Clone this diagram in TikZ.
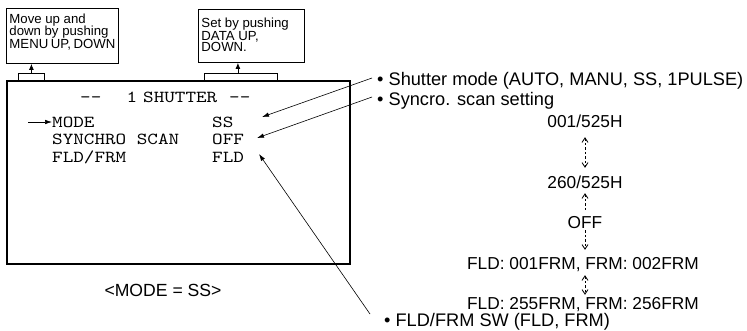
\documentclass[tikz,border=0pt]{standalone}
\usepackage{fontspec}
\setmainfont{Liberation Sans}
\newfontfamily\scrmono[FakeStretch=1.2]{lmmono10-regular.otf}
\usetikzlibrary{arrows.meta}
\begin{document}
\begin{tikzpicture}[x=1pt,y=-1pt,
  sans/.style={font=\fontsize{17.3}{20}\selectfont, inner sep=0pt, text height=12.4pt, text depth=0pt},
  bul/.style={font=\fontsize{18.2}{20}\selectfont, inner sep=0pt, anchor=west, text height=13pt, text depth=0pt},
  mono/.style={font=\scrmono\fontsize{16.8}{18}\selectfont, inner sep=0pt, anchor=west, text height=10.3pt, text depth=0pt},
  note/.style={draw, line width=0.9pt, anchor=north west, inner xsep=3pt, inner ysep=0pt, font=\fontsize{13.2}{12.5}\selectfont},
  tabbox/.style={draw, line width=0.8pt, inner sep=0pt, anchor=north west},
  screen/.style={draw, line width=1.8pt, inner sep=0pt, anchor=north west},
  callout/.style={line width=0.6pt, -{Latex[length=7pt,width=4.5pt]}},
  cyc/.style={line width=0.7pt, dash pattern=on 2.5pt off 2pt},
  barb/.tip={Straight Barb[length=4.5pt,width=6pt,line width=0.8pt]}
]
\useasboundingbox (0,0) rectangle (747,330);

% note boxes
\node[note] (lbox) at (6,8) {\parbox[t][55pt][t]{106pt}{\vspace*{5pt}Move up and\\down by pushing\\MENU UP, DOWN}};
\node[note, font=\fontsize{13.2}{11.6}\selectfont] (rbox) at (198,9) {\parbox[t][53pt][t]{100pt}{\vspace*{8.5pt}Set by pushing\\DATA UP,\\DOWN.}};

% tabs and screen
\node[tabbox, minimum width=26pt, minimum height=7pt] (ltab) at (18,73) {};
\node[tabbox, minimum width=73pt, minimum height=7pt] (rtab) at (204,73) {};
\node[screen, minimum width=343pt, minimum height=183pt] (scr) at (6,80) {};

\draw[line width=0.8pt, -{Latex[length=6pt,width=5pt]}] (ltab.north) -- (ltab.north |- lbox.south);
\draw[line width=0.8pt, -{Latex[length=6pt,width=5pt]}] ([xshift=-3pt]rtab.north) -- ([xshift=-3pt]rtab.north |- rbox.south);

% screen text
\node[mono] (d1) at (80,97) {{-}{-}};
\node[mono, anchor=center] (one) at (132,97) {1};
\node[mono] (shut) at (143,97) {SHUTTER};
\node[mono] (d2) at (229,97) {{-}{-}};
\node[mono] (mode) at (52,122) {MODE};
\node[mono] (ss) at (212,122) {SS};
\node[mono] (sync) at (52,139.5) {SYNCHRO SCAN};
\node[mono] (off1) at (212,139.5) {OFF};
\node[mono] (fldfrm) at (52,157) {FLD/FRM};
\node[mono] (fld) at (212,157) {FLD};

\coordinate (mstart) at (28,122);
\draw[callout] (mstart) -- (mode.west);

\node[sans, anchor=center, font=\fontsize{17.6}{20}\selectfont] (cap) at (163,290) {<MODE = SS>};

% bullet notes
\node[bul] (m1) at (377,79) {• Shutter mode (AUTO, MANU, SS, 1PULSE)};
\node[bul] (m2) at (377,99) {• Syncro. scan setting};
\node[bul] (m3) at (384,320) {• FLD/FRM SW (FLD, FRM)};

\coordinate (s1) at (372,78);
\coordinate (s2) at (372,97);
\coordinate (s3) at (370,314);
\coordinate (tip1) at (262,117);
\coordinate (tip2) at (257,138);
\coordinate (tip3) at (259,154);
\draw[callout] (s1) -- (tip1);
\draw[callout] (s2) -- (tip2);
\draw[callout] (s3) -- (tip3);

% value cycle
\node[sans] (n001) at (585,121) {001/525H};
\node[sans] (n260) at (585,182) {260/525H};
\node[sans] (noff) at (585,222) {OFF};
\node[sans] (nfld1) at (583,263) {FLD: 001FRM, FRM: 002FRM};
\node[sans] (nfld255) at (583,303) {FLD: 255FRM, FRM: 256FRM};

\draw[cyc, {barb}-{barb}, shorten <=9.8pt, shorten >=7.8pt] (n001.south) -- (n260.north);
\draw[cyc, {barb}-, shorten <=4.8pt, shorten >=3.8pt] (n260.south) -- (noff.north);
\draw[cyc, -{barb}, shorten <=2pt, shorten >=6.8pt] (noff.south) -- (noff.south |- nfld1.north);
\draw[cyc, {barb}-{barb}, shorten <=5.8pt, shorten >=1.8pt] (noff.south |- nfld1.south) -- (noff.south |- nfld255.north);
\end{tikzpicture}
\end{document}
